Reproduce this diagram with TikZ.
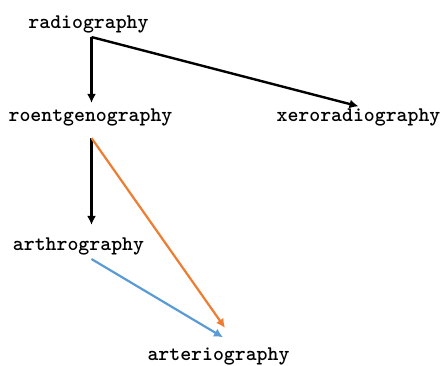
\documentclass[tikz,border=0pt]{standalone}
\usepackage{tikz}
\usetikzlibrary{arrows.meta}
\usepackage{xcolor}
\definecolor{edgeorange}{RGB}{237,125,49}
\definecolor{edgeblue}{RGB}{91,155,213}

\begin{document}
\begin{tikzpicture}[x=0.5pt, y=-0.5pt, >={Latex[length=4.5pt,width=4.5pt]},
    every node/.style={inner sep=2pt, anchor=base, font=\fontsize{10.4}{12}\selectfont\ttfamily\bfseries}]
    \useasboundingbox (0,0) rectangle (440,365);
    \node (rad) at (88.5,28) {radiography};
    \node (roe) at (90.5,121) {roentgenography};
    \node (xero) at (358.5,121) {xeroradiography};
    \node (arth) at (78.5,250) {arthrography};
    \node (arte) at (218.5,360) {arteriography};
    \draw[->, line width=1.2pt] ([xshift=1.5pt]rad.south) -- ([xshift=0.5pt,yshift=0.5pt]roe.north);
    \draw[->, line width=1.2pt] ([xshift=1.5pt]rad.south) -- ([yshift=-1.2pt]xero.north);
    \draw[->, line width=1.2pt] ([xshift=0.5pt,yshift=-4pt]roe.south) -- ([xshift=6.5pt,yshift=4pt]arth.north);
    \draw[->, line width=1.1pt, edgeorange] ([xshift=0.5pt,yshift=-4pt]roe.south) -- ([xshift=3.25pt,yshift=7.5pt]arte.north);
    \draw[->, line width=1.1pt, edgeblue] ([xshift=6.5pt]arth.south) -- ([xshift=2.25pt,yshift=2.8pt]arte.north);
\end{tikzpicture}
\end{document}
